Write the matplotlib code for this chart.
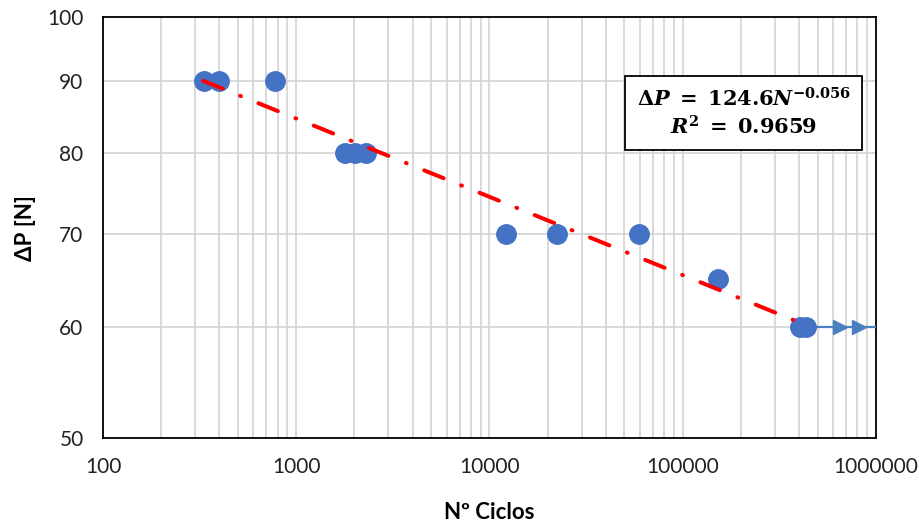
import numpy as np
import matplotlib
matplotlib.use('Agg')
import matplotlib.pyplot as plt
from matplotlib.ticker import FixedLocator, NullFormatter, LogLocator

plt.rcParams['font.family'] = ['Lato', 'DejaVu Sans']
plt.rcParams['mathtext.fontset'] = 'dejavuserif'

## Data
ciclos = [333, 398, 776, 1790, 2010, 2300, 12200, 22300, 59400, 152000, 404000, 434000]
carga = [90, 90, 90, 80, 80, 80, 70, 70, 70, 65, 60, 60]

# run-out (no failure) markers
runout_x = [434000, 651000, 817000, 1000000]
runout_y = [60, 60, 60, 60]

# power law fit shown in the box
coef = 124.6
expo = -0.056
fit_range = [330, 450000]
r2 = 0.9659

y_ticks = [50, 60, 70, 80, 90, 100]
x_ticks = [100, 1000, 10000, 100000, 1000000]

fig = plt.figure(figsize=(9.2, 5.22), dpi=100)
ax = fig.add_axes([0.112, 0.161, 0.840, 0.806])
ax.set_xscale('log')
ax.set_yscale('log')
ax.set_xlim(100, 1000000)
ax.set_ylim(50, 100)

# grid
ax.xaxis.set_major_locator(FixedLocator(x_ticks))
ax.xaxis.set_minor_locator(LogLocator(base=10, subs=np.arange(2, 10)))
ax.xaxis.set_minor_formatter(NullFormatter())
ax.set_xticklabels([str(v) for v in x_ticks])
ax.yaxis.set_major_locator(FixedLocator(y_ticks))
ax.yaxis.set_minor_locator(FixedLocator([]))
ax.yaxis.set_minor_formatter(NullFormatter())
ax.set_yticklabels([str(v) for v in y_ticks])
ax.grid(True, which='both', axis='x', color='#d0d0d0', lw=1.1)
ax.grid(True, which='major', axis='y', color='#d0d0d0', lw=1.1)
ax.set_axisbelow(True)
ax.tick_params(which='both', length=0, labelsize=15, colors='#222222')
ax.tick_params(axis='x', pad=14)
ax.tick_params(axis='y', pad=14)
for s in ax.spines.values():
    s.set_linewidth(1.3)
    s.set_color('black')

# run-outs
ax.plot(runout_x[:-1], runout_y[:-1], color='#4a7fc0', lw=1.6, marker='>',
        markersize=10, markevery=[1, 2], zorder=3, clip_on=False)
ax.plot(runout_x[-2:], runout_y[-2:], color='#4a7fc0', lw=1.6, zorder=3)

# data points
ax.plot(ciclos, carga, 'o', color='#4472C4', markersize=14, zorder=4)

# trend line
xf = np.array(fit_range, dtype=float)
ax.plot(xf, coef * xf ** expo, color='red', lw=2.9, dashes=(5.2, 4.7, 0.2, 4.7),
        dash_capstyle='round', zorder=5)

# equation box
eq1 = r'$\mathbf{\Delta}\mathbfit{P}\ \mathbf{=\ 124.6}\mathbfit{N}^{\mathbf{-0.056}}$'
eq2 = r'$\mathbfit{R}^{\mathbf{2}}\ \mathbf{=\ %.4f}$' % r2
ax.text(0.829, 0.772, eq1 + '\n' + eq2,
        transform=ax.transAxes, ha='center', va='center', fontsize=15,
        linespacing=1.25, zorder=6,
        bbox=dict(boxstyle='square,pad=0.55', fc='white', ec='black', lw=1.3))

ax.set_xlabel('Nº Ciclos', fontsize=16, fontweight='bold', labelpad=18)
ax.set_ylabel('ΔP [N]', fontsize=16, fontweight='bold', labelpad=8)

fig.savefig('out.png', dpi=100)
